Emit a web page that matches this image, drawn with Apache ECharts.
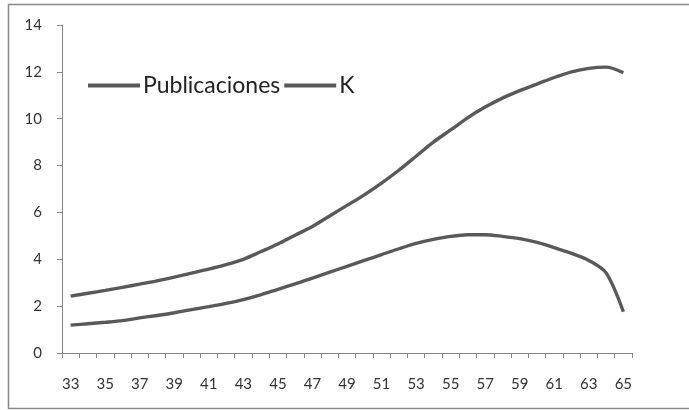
<!DOCTYPE html>
<html>
<head>
<meta charset="utf-8">
<style>
  html, body { margin: 0; padding: 0; background: #fff; }
  #chart { width: 689px; height: 410px; }
</style>
<script src="https://cdn.jsdelivr.net/npm/echarts@6/dist/echarts.min.js"></script>
</head>
<body>
<div id="chart"></div>
<script>
// Age categories (x axis)
const ages = [33,34,35,36,37,38,39,40,41,42,43,44,45,46,47,48,49,50,51,52,53,54,55,56,57,58,59,60,61,62,63,64,65].map(String);

// Series values
const publicaciones = [2.43,2.55,2.67,2.80,2.94,3.08,3.24,3.41,3.58,3.77,4.00,4.32,4.65,5.03,5.40,5.85,6.30,6.75,7.25,7.80,8.40,9.00,9.52,10.05,10.50,10.88,11.20,11.48,11.76,12.00,12.15,12.20,11.96];
const k = [1.19,1.25,1.31,1.38,1.50,1.60,1.72,1.85,1.98,2.12,2.28,2.48,2.72,2.95,3.20,3.45,3.70,3.95,4.20,4.45,4.68,4.85,4.98,5.05,5.05,4.98,4.88,4.72,4.50,4.25,3.95,3.42,1.76];

// Y axis range
const yMin = 0, yMax = 14, yStep = 2;

const lineColor = '#595959';
const axisColor = '#868686';
const font = 'Lato, "Open Sans", sans-serif';

const chart = echarts.init(document.getElementById('chart'), null, { renderer: 'canvas' });

chart.setOption({
  animation: false,
  backgroundColor: '#fff',
  graphic: [{
    type: 'rect',
    shape: { x: 8.5, y: 4.5, width: 700, height: 404 },
    style: { fill: 'none', stroke: '#8a8a8a', lineWidth: 1.5 },
    silent: true
  }],
  grid: { left: 62, right: 57, top: 25, bottom: 57, containLabel: false },
  legend: {
    left: 83,
    top: 69,
    itemWidth: 52,
    itemHeight: 4,
    itemGap: 4,
    icon: 'rect',
    textStyle: { fontFamily: font, fontSize: 23, color: '#222', padding: [0, 0, 0, -2] },
    data: ['Publicaciones', 'K']
  },
  xAxis: {
    type: 'category',
    data: ages,
    boundaryGap: true,
    axisLine: { lineStyle: { color: axisColor, width: 1 } },
    axisTick: { show: true, interval: 0, length: 5, lineStyle: { color: axisColor } },
    axisLabel: { interval: 1, margin: 24, fontFamily: font, fontSize: 15, color: '#333' },
    splitLine: { show: false }
  },
  yAxis: {
    type: 'value',
    min: yMin,
    max: yMax,
    interval: yStep,
    axisLine: { show: true, lineStyle: { color: axisColor, width: 1 } },
    axisTick: { show: true, length: 5, lineStyle: { color: axisColor } },
    axisLabel: { margin: 20, fontFamily: font, fontSize: 15, color: '#333' },
    splitLine: { show: false }
  },
  series: [
    {
      name: 'Publicaciones',
      type: 'line',
      data: publicaciones,
      showSymbol: false,
      smooth: 0.3,
      lineStyle: { color: lineColor, width: 3.4 },
      itemStyle: { color: lineColor }
    },
    {
      name: 'K',
      type: 'line',
      data: k,
      showSymbol: false,
      smooth: 0.3,
      lineStyle: { color: lineColor, width: 3.4 },
      itemStyle: { color: lineColor }
    }
  ]
});
</script>
</body>
</html>
